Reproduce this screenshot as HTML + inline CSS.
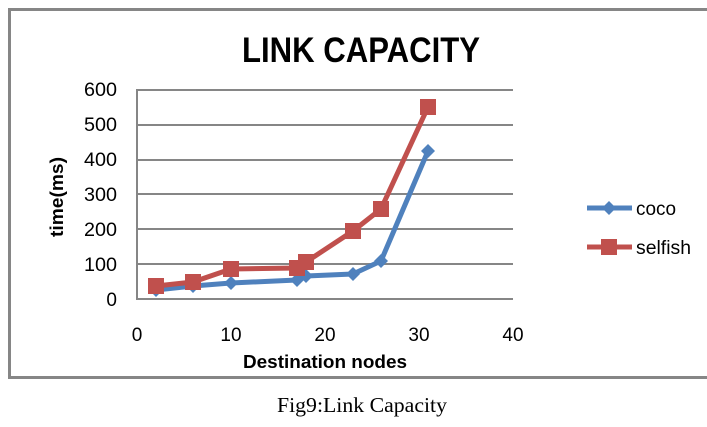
<!DOCTYPE html>
<html><head><style>html,body{margin:0;padding:0;background:#fff}svg{display:block}</style></head><body>
<svg width="707" height="427" xmlns="http://www.w3.org/2000/svg" font-family="Liberation Sans, sans-serif">
<rect x="9.5" y="9.5" width="720" height="368" fill="#fff" stroke="#868686" stroke-width="3"/>
<text x="242" y="62" font-size="35" font-weight="bold" textLength="238" lengthAdjust="spacingAndGlyphs">LINK CAPACITY</text>
<g stroke="#868686" stroke-width="2">
<line x1="137" y1="90" x2="513" y2="90"/><line x1="137" y1="125" x2="513" y2="125"/>
<line x1="137" y1="160" x2="513" y2="160"/><line x1="137" y1="194" x2="513" y2="194"/>
<line x1="137" y1="229" x2="513" y2="229"/><line x1="137" y1="264" x2="513" y2="264"/>
<line x1="137" y1="299" x2="513" y2="299"/><line x1="137" y1="89" x2="137" y2="300"/>
</g>
<g font-size="19" text-anchor="end" fill="#000">
<text x="117" y="96" textLength="33" lengthAdjust="spacingAndGlyphs">600</text><text x="117" y="131" textLength="33" lengthAdjust="spacingAndGlyphs">500</text><text x="117" y="166" textLength="33" lengthAdjust="spacingAndGlyphs">400</text>
<text x="117" y="201" textLength="33" lengthAdjust="spacingAndGlyphs">300</text><text x="117" y="236" textLength="33" lengthAdjust="spacingAndGlyphs">200</text><text x="117" y="271" textLength="33" lengthAdjust="spacingAndGlyphs">100</text><text x="117" y="306">0</text>
</g>
<g font-size="19" text-anchor="middle">
<text x="137" y="341">0</text><text x="231" y="341">10</text><text x="325" y="341">20</text><text x="419" y="341">30</text><text x="513" y="341">40</text>
</g>
<text x="243" y="368" font-size="18" font-weight="bold" textLength="164" lengthAdjust="spacingAndGlyphs">Destination nodes</text>
<text transform="translate(63,237) rotate(-90)" font-size="18" font-weight="bold" textLength="80" lengthAdjust="spacingAndGlyphs">time(ms)</text>
<polyline fill="none" stroke="#4f81bd" stroke-width="5" stroke-linejoin="round" points="156,290 193,286 231,283 297,280 306,276 353,274 381,261 428,151"/>
<g fill="#4f81bd">
<path d="M156,283l7,7l-7,7l-7,-7z"/><path d="M193,279l7,7l-7,7l-7,-7z"/><path d="M231,276l7,7l-7,7l-7,-7z"/>
<path d="M297,273l7,7l-7,7l-7,-7z"/><path d="M306,269l7,7l-7,7l-7,-7z"/><path d="M353,267l7,7l-7,7l-7,-7z"/>
<path d="M381,254l7,7l-7,7l-7,-7z"/><path d="M428,144l7,7l-7,7l-7,-7z"/>
</g>
<polyline fill="none" stroke="#c0504d" stroke-width="5" stroke-linejoin="round" points="156,286 193,282 231,269 297,268 306,262 353,231 381,209 428,107"/>
<g fill="#c0504d">
<rect x="148" y="278" width="16" height="16"/><rect x="185" y="274" width="16" height="16"/><rect x="223" y="261" width="16" height="16"/>
<rect x="289" y="260" width="16" height="16"/><rect x="298" y="254" width="16" height="16"/><rect x="345" y="223" width="16" height="16"/>
<rect x="373" y="201" width="16" height="16"/><rect x="420" y="99" width="16" height="16"/>
</g>
<line x1="587" y1="208" x2="632" y2="208" stroke="#4f81bd" stroke-width="5"/>
<path d="M609,201l7,7l-7,7l-7,-7z" fill="#4f81bd"/>
<line x1="587" y1="247" x2="632" y2="247" stroke="#c0504d" stroke-width="5"/>
<rect x="601" y="239" width="16" height="16" fill="#c0504d"/>
<text x="636" y="215" font-size="19" textLength="40" lengthAdjust="spacingAndGlyphs">coco</text>
<text x="636" y="254" font-size="19" textLength="55" lengthAdjust="spacingAndGlyphs">selfish</text>
<text x="277" y="412" font-family="Liberation Serif, serif" font-size="21" textLength="170" lengthAdjust="spacingAndGlyphs">Fig9:Link Capacity</text>
</svg>
</body></html>
